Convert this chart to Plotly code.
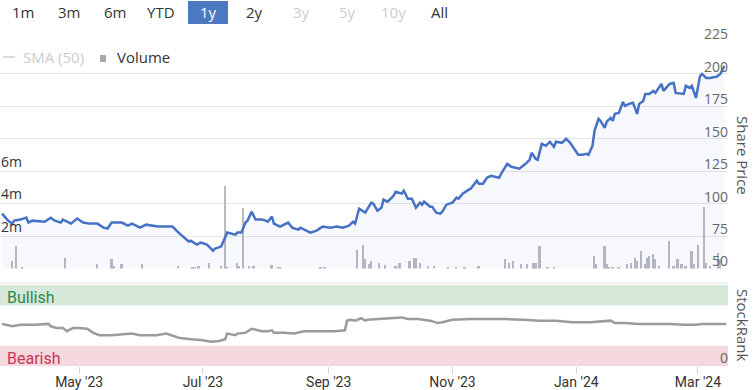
import plotly.graph_objects as go

# ---------------- data ----------------
price_dates = [
    "2023-03-24", "2023-03-27", "2023-03-29", "2023-03-30", "2023-04-02", "2023-04-05", "2023-04-06",
    "2023-04-08", "2023-04-14", "2023-04-17", "2023-04-19", "2023-04-22", "2023-04-23", "2023-04-27",
    "2023-04-30", "2023-05-03", "2023-05-06", "2023-05-10", "2023-05-13", "2023-05-15", "2023-05-17",
    "2023-05-22", "2023-05-25", "2023-05-27", "2023-05-31", "2023-06-03", "2023-06-09", "2023-06-16",
    "2023-06-19", "2023-06-22", "2023-06-24", "2023-06-25", "2023-06-28", "2023-06-30", "2023-07-03",
    "2023-07-06", "2023-07-07", "2023-07-10", "2023-07-12", "2023-07-13", "2023-07-17", "2023-07-18",
    "2023-07-20", "2023-07-22", "2023-07-23", "2023-07-25", "2023-07-27", "2023-07-30", "2023-08-01",
    "2023-08-02", "2023-08-04", "2023-08-05", "2023-08-08", "2023-08-12", "2023-08-14", "2023-08-17",
    "2023-08-18", "2023-08-20", "2023-08-23", "2023-08-26", "2023-08-29", "2023-09-02", "2023-09-05",
    "2023-09-08", "2023-09-11", "2023-09-13", "2023-09-14", "2023-09-16", "2023-09-19", "2023-09-22",
    "2023-09-23", "2023-09-25", "2023-09-27", "2023-09-28", "2023-09-30", "2023-10-03", "2023-10-04",
    "2023-10-07", "2023-10-08", "2023-10-10", "2023-10-12", "2023-10-14", "2023-10-16", "2023-10-17",
    "2023-10-18", "2023-10-21", "2023-10-22", "2023-10-24", "2023-10-26", "2023-10-27", "2023-10-29",
    "2023-11-01", "2023-11-03", "2023-11-04", "2023-11-06", "2023-11-09", "2023-11-10", "2023-11-13",
    "2023-11-14", "2023-11-16", "2023-11-18", "2023-11-20", "2023-11-24", "2023-11-25", "2023-11-28",
    "2023-11-30", "2023-12-03", "2023-12-04", "2023-12-07", "2023-12-09", "2023-12-10", "2023-12-12",
    "2023-12-13", "2023-12-15", "2023-12-17", "2023-12-19", "2023-12-21", "2023-12-22", "2023-12-25",
    "2023-12-27", "2023-12-29", "2023-12-31", "2024-01-02", "2024-01-04", "2024-01-06", "2024-01-07",
    "2024-01-09", "2024-01-10", "2024-01-12", "2024-01-13", "2024-01-15", "2024-01-16", "2024-01-18",
    "2024-01-19", "2024-01-20", "2024-01-22", "2024-01-24", "2024-01-25", "2024-01-27", "2024-01-29",
    "2024-01-31", "2024-02-01", "2024-02-03", "2024-02-04", "2024-02-06", "2024-02-08", "2024-02-09",
    "2024-02-12", "2024-02-13", "2024-02-16", "2024-02-18", "2024-02-19", "2024-02-23", "2024-02-24",
    "2024-02-26", "2024-02-27", "2024-02-29", "2024-03-02", "2024-03-03", "2024-03-05", "2024-03-07",
    "2024-03-09", "2024-03-10", "2024-03-12", "2024-03-14",
]
price_values = [
    92.3, 86.9, 84.6, 86.9, 87.7, 89.2, 85.4,
    86.9, 86.1, 89.2, 86.9, 85.4, 87.7, 84.6,
    88.5, 85.4, 84.6, 84.6, 81.5, 80.8, 85.4,
    85.4, 83.1, 84.6, 81.5, 83.8, 82.3, 82.3,
    77.7, 73.1, 70.8, 71.5, 68.5, 70.0, 68.5,
    63.8, 65.4, 66.9, 73.8, 77.7, 76.1, 77.7,
    77.7, 85.4, 86.9, 93.8, 87.7, 87.7, 86.9,
    86.1, 90.0, 84.6, 82.3, 85.4, 81.5, 80.0,
    81.5, 80.0, 77.7, 79.2, 82.3, 81.5, 82.3,
    81.5, 83.1, 86.1, 84.6, 96.1, 93.1, 100.8,
    100.0, 94.6, 96.9, 103.1, 101.5, 106.1, 109.2,
    107.7, 110.0, 103.8, 103.8, 96.9, 100.8, 99.2,
    101.5, 97.7, 97.7, 93.1, 92.3, 93.8, 99.2,
    100.8, 104.6, 103.8, 107.7, 110.8, 111.5, 117.7,
    115.4, 115.4, 120.0, 121.5, 120.0, 123.1, 130.7,
    128.4, 126.9, 126.9, 130.7, 133.8, 139.2, 134.6,
    133.8, 146.1, 144.6, 147.7, 143.8, 147.7, 146.9,
    150.0, 146.9, 142.3, 137.7, 137.7, 138.4, 137.7,
    144.6, 156.1, 165.4, 163.8, 158.4, 163.1, 166.1,
    163.8, 169.2, 170.0, 178.4, 175.4, 176.9, 177.7,
    169.2, 176.9, 179.2, 184.6, 184.6, 186.9, 185.4,
    192.3, 186.9, 192.3, 193.1, 185.4, 184.6, 190.8,
    189.2, 190.8, 181.5, 198.4, 200.0, 196.9, 196.9,
    197.6, 197.6, 200.0, 206.1,
]

volume_dates = [
    "2023-03-29", "2023-03-31", "2023-04-03", "2023-04-24", "2023-05-10", "2023-05-17", "2023-05-18",
    "2023-05-22", "2023-06-01", "2023-06-19", "2023-06-26", "2023-06-27", "2023-06-29", "2023-07-04",
    "2023-07-10", "2023-07-12", "2023-07-13", "2023-07-18", "2023-07-19", "2023-07-21", "2023-07-24",
    "2023-07-26", "2023-08-04", "2023-08-07", "2023-08-08", "2023-08-28", "2023-08-30", "2023-09-15",
    "2023-09-18", "2023-09-19", "2023-09-21", "2023-09-22", "2023-09-26", "2023-09-29", "2023-10-04",
    "2023-10-06", "2023-10-11", "2023-10-13", "2023-10-14", "2023-10-16", "2023-10-20", "2023-10-23",
    "2023-10-30", "2023-11-03", "2023-11-07", "2023-11-14", "2023-11-27", "2023-11-29", "2023-12-01",
    "2023-12-05", "2023-12-08", "2023-12-11", "2023-12-12", "2023-12-14", "2023-12-18", "2023-12-21",
    "2024-01-10", "2024-01-11", "2024-01-15", "2024-01-16", "2024-01-17", "2024-01-19", "2024-01-22",
    "2024-01-26", "2024-01-28", "2024-01-30", "2024-01-31", "2024-02-02", "2024-02-04", "2024-02-05",
    "2024-02-06", "2024-02-08", "2024-02-09", "2024-02-11", "2024-02-16", "2024-02-18", "2024-02-20",
    "2024-02-22", "2024-02-24", "2024-02-27", "2024-02-28", "2024-03-01", "2024-03-04", "2024-03-05",
    "2024-03-07", "2024-03-11", "2024-03-12",
]
volume_millions = [
    0.5, 1.4, 0.1, 0.7, 0.3, 0.6, 0.2,
    0.3, 0.3, 0.2, 0.15, 0.15, 0.2, 0.4,
    0.2, 5.1, 0.15, 0.4, 0.2, 3.75, 0.2,
    0.2, 0.25, 0.15, 0.15, 0.1, 0.1, 1.2,
    1.5, 0.6, 0.3, 0.5, 0.35, 0.25, 0.2,
    0.4, 0.5, 0.7, 0.7, 0.4, 0.2, 0.2,
    0.15, 0.15, 0.15, 0.2, 0.6, 0.4, 0.5,
    0.3, 0.3, 0.4, 0.4, 1.4, 0.1, 0.1,
    0.8, 0.3, 1.4, 0.3, 0.15, 0.15, 0.15,
    0.3, 0.4, 0.7, 0.5, 1.1, 0.3, 0.7,
    0.8, 0.9, 0.6, 0.2, 1.7, 0.2, 0.6,
    0.3, 0.2, 1.1, 0.3, 1.5, 3.8, 0.4,
    0.2, 1.0, 0.6,
]

rank_dates = [
    "2023-03-24", "2023-03-29", "2023-04-02", "2023-04-09", "2023-04-16", "2023-04-17", "2023-04-20",
    "2023-04-23", "2023-04-25", "2023-04-28", "2023-05-01", "2023-05-05", "2023-05-08", "2023-05-11",
    "2023-05-17", "2023-05-27", "2023-05-31", "2023-06-08", "2023-06-13", "2023-06-15", "2023-06-19",
    "2023-06-25", "2023-06-30", "2023-07-05", "2023-07-09", "2023-07-12", "2023-07-13", "2023-07-17",
    "2023-07-18", "2023-07-22", "2023-07-25", "2023-07-30", "2023-08-02", "2023-08-04", "2023-08-05",
    "2023-08-10", "2023-08-15", "2023-08-18", "2023-08-20", "2023-08-27", "2023-09-04", "2023-09-09",
    "2023-09-10", "2023-09-12", "2023-09-14", "2023-09-17", "2023-09-19", "2023-09-20", "2023-09-29",
    "2023-10-07", "2023-10-10", "2023-10-15", "2023-10-21", "2023-10-25", "2023-10-27", "2023-11-01",
    "2023-11-10", "2023-11-19", "2023-11-27", "2023-12-06", "2023-12-14", "2023-12-22", "2023-12-30",
    "2024-01-08", "2024-01-16", "2024-01-18", "2024-01-20", "2024-01-25", "2024-02-01", "2024-02-08",
    "2024-02-16", "2024-02-23", "2024-02-29", "2024-03-03", "2024-03-09", "2024-03-15",
]
rank_values = [
    52, 49, 51, 51, 52, 49, 47,
    47, 43, 47, 47, 46, 41, 38,
    38, 40, 38, 38, 40, 38, 35,
    33, 32, 30, 31, 33, 40, 38,
    40, 41, 46, 43, 43, 44, 41,
    41, 40, 42, 43, 43, 43, 44,
    56, 57, 56, 59, 56, 57, 59,
    60, 58, 58, 56, 53, 54, 57,
    58, 58, 58, 57, 56, 56, 54,
    54, 56, 56, 53, 53, 52, 52,
    52, 51, 51, 52, 52, 52,
]

price_ticks = [50, 75, 100, 125, 150, 175, 200, 225]
volume_ticks = [2e6, 4e6, 6e6]
volume_tick_text = ["2m", "4m", "6m"]
range_buttons = ["1m", "3m", "6m", "YTD", "1y", "2y", "3y", "5y", "10y", "All"]
disabled_buttons = ["3y", "5y", "10y"]
selected_button = "1y"

# ---------------- layout helpers ----------------
W, H = 753, 390
PLOT_W = 728


def px(x):
    return x / PLOT_W


def py(y):
    return 1 - y / H


FONT = "Open Sans"
BLUE = "#4572c4"

fig = go.Figure()

fig.add_trace(go.Bar(
    x=volume_dates, y=[v * 1e6 for v in volume_millions], xaxis="x", yaxis="y",
    marker=dict(color="#b9b9c1", line=dict(width=0)), width=0.9 * 86400000,
    showlegend=False, hoverinfo="skip",
))
fig.add_trace(go.Scatter(
    x=price_dates, y=price_values, xaxis="x", yaxis="y2", mode="lines",
    line=dict(color=BLUE, width=2.5), fill="tozeroy", fillcolor="rgba(69,114,196,0.05)",
    showlegend=False,
))
fig.add_trace(go.Scatter(
    x=rank_dates, y=rank_values, xaxis="x2", yaxis="y3", mode="lines",
    line=dict(color="#9b9b9b", width=2.5), showlegend=False,
))

xrange = ["2023-03-23", "2024-03-15 19:00"]
top_dom = [py(268.5), py(41.5)]
bot_dom = [py(366), py(283)]

shapes = [
    # StockRank bands
    dict(type="rect", xref="x2 domain", yref="y3", x0=0, x1=1, y0=75, y1=100,
         fillcolor="#d5e8d9", line=dict(width=0), layer="below"),
    dict(type="rect", xref="x2 domain", yref="y3", x0=0, x1=1, y0=0, y1=25,
         fillcolor="#f4d8dd", line=dict(width=0), layer="below"),
    dict(type="line", xref="x2 domain", yref="y3 domain", x0=0, x1=1, y0=1, y1=1,
         line=dict(color="#e6e6e6", width=1)),
    # legend symbols
    dict(type="line", xref="paper", yref="paper", x0=px(3), x1=px(15), y0=py(57), y1=py(57),
         line=dict(color="#cccccc", width=1.5)),
    dict(type="rect", xref="paper", yref="paper", x0=px(100), x1=px(106), y0=py(62), y1=py(55),
         fillcolor="#a8a8b0", line=dict(width=0)),
]

annotations = []
button_centers = [23, 69, 115, 161, 208, 254, 301, 347, 393, 439]
for label, cx in zip(range_buttons, button_centers):
    color = "#333333"
    if label in disabled_buttons:
        color = "#cccccc"
    if label == selected_button:
        color = "#ffffff"
        shapes.append(dict(type="rect", xref="paper", yref="paper", x0=px(188), x1=px(228),
                           y0=py(24), y1=py(1), fillcolor="#4d78c2", line=dict(width=0)))
    annotations.append(dict(text=label, x=px(cx), y=py(12), xref="paper", yref="paper",
                            xanchor="center", yanchor="middle", showarrow=False,
                            font=dict(family=FONT, size=15, color=color)))

annotations += [
    dict(text="SMA (50)", x=px(21), y=py(57), xref="paper", yref="paper", xanchor="left",
         yanchor="middle", showarrow=False, font=dict(family=FONT, size=15, color="#cccccc")),
    dict(text="Volume", x=px(115), y=py(57), xref="paper", yref="paper", xanchor="left",
         yanchor="middle", showarrow=False, font=dict(family=FONT, size=15, color="#333333")),
    dict(text="Share Price", x=px(743), y=py(155), xref="paper", yref="paper", textangle=90,
         xanchor="center", yanchor="middle", showarrow=False,
         font=dict(family=FONT, size=15, color="#555555")),
    dict(text="StockRank", x=px(743), y=py(325), xref="paper", yref="paper", textangle=90,
         xanchor="center", yanchor="middle", showarrow=False,
         font=dict(family=FONT, size=15, color="#555555")),
    dict(text="Bullish", x=px(5), y=py(297), xref="paper", yref="paper", xanchor="left",
         yanchor="middle", showarrow=False, font=dict(family="Roboto", size=16, color="#2e8b47")),
    dict(text="Bearish", x=px(5), y=py(358), xref="paper", yref="paper", xanchor="left",
         yanchor="middle", showarrow=False, font=dict(family="Roboto", size=16, color="#cc3556")),
]

fig.update_layout(
    width=W, height=H,
    margin=dict(l=0, r=W - PLOT_W, t=0, b=0, pad=0, autoexpand=False),
    paper_bgcolor="white", plot_bgcolor="rgba(0,0,0,0)",
    showlegend=False, bargap=0,
    font=dict(family=FONT, color="#333333"),
    xaxis=dict(domain=[0, 1], anchor="y", range=xrange, matches="x2", showticklabels=False,
               showgrid=False, zeroline=False, showline=False, ticks="", automargin=False),
    xaxis2=dict(domain=[0, 1], anchor="y3", range=xrange, type="date",
                tick0="2023-05-01", dtick="M2", tickformat="%b '%y",
                ticks="outside", ticklen=7, tickcolor="#ccd6eb", showgrid=False,
                zeroline=False, showline=False, automargin=False, ticklabelstandoff=-4,
                tickfont=dict(family="Roboto", size=14, color="#333333")),
    yaxis=dict(domain=top_dom, anchor="x", range=[0, 6e6 * 227 / 97.5], side="left",
               tickvals=volume_ticks, ticktext=volume_tick_text, ticklabelposition="inside",
               ticklabelshift=-9, ticklabelstandoff=-2, ticklabeloverflow="allow",
               showgrid=False, zeroline=False, showline=False, automargin=False,
               tickfont=dict(family=FONT, size=14, color="#333333")),
    yaxis2=dict(domain=top_dom, anchor="x", overlaying="y", range=[50, 225], side="right",
                tickvals=price_ticks, ticklabelposition="inside", ticklabelshift=-7,
                ticklabelstandoff=-3, ticklabeloverflow="allow", automargin=False,
                showgrid=True, gridcolor="#e6e6e6", gridwidth=1, zeroline=False, showline=False,
                tickfont=dict(family=FONT, size=14, color="#666666")),
    yaxis3=dict(domain=bot_dom, anchor="x2", range=[0, 102.5], side="right",
                tickvals=[0], ticktext=["0"], ticklabelposition="inside", ticklabelshift=-8,
                ticklabelstandoff=-3, ticklabeloverflow="allow", automargin=False,
                showgrid=False, zeroline=False, showline=False,
                tickfont=dict(family=FONT, size=14, color="#666666")),
    shapes=shapes,
    annotations=annotations,
)

fig.write_html(
    "out.html",
    config={"displayModeBar": False},
    post_script="document.body.style.margin='0';document.body.style.overflow='hidden';",
)
